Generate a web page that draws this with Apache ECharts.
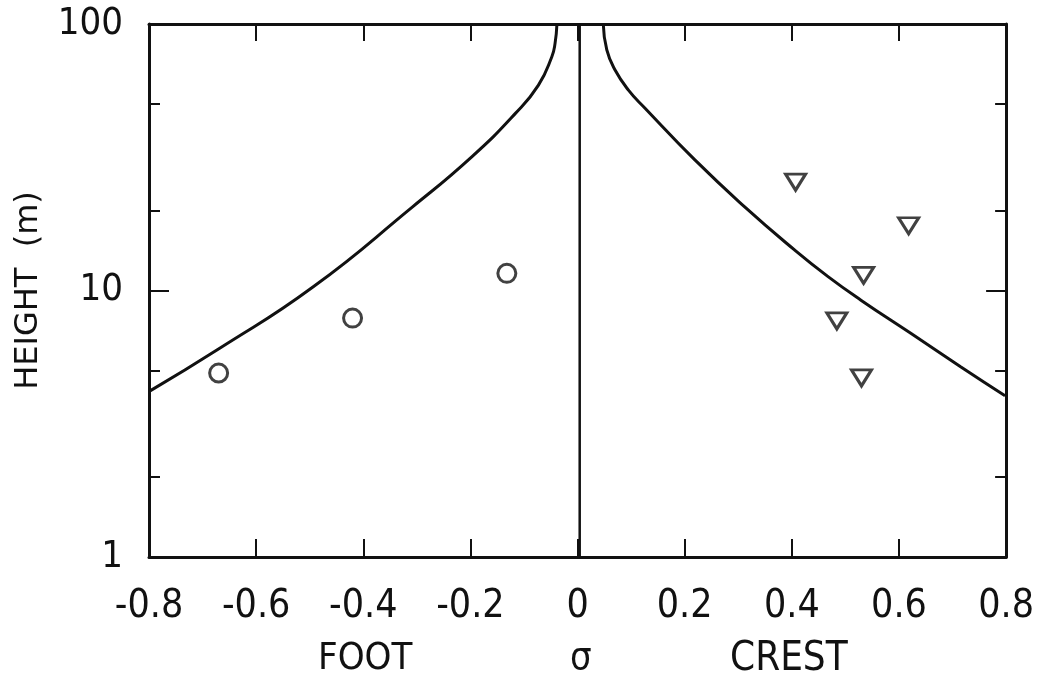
<!DOCTYPE html>
<html>
<head>
<meta charset="utf-8">
<script src="https://cdn.jsdelivr.net/npm/echarts@6/dist/echarts.min.js"></script>
<style>
  html, body { margin: 0; padding: 0; background: #fff; }
  #chart { width: 1037px; height: 676px; }
</style>
</head>
<body>
<div id="chart"></div>
<script>
// sigma vs height, foot (left) and crest (right)
var xTicks = [-0.8, -0.6, -0.4, -0.2, 0, 0.2, 0.4, 0.6, 0.8];
var yMajorTicks = [1, 10, 100];
var yMinorTicks = [2, 5, 20, 50];

// model curve, foot side
var footCurveX = [-0.798, -0.668, -0.494, -0.308, -0.197, -0.116, -0.073, -0.048, -0.042, -0.0385];
var footCurveY = [4.2, 6.07, 10.3, 20.6, 31.8, 46.2, 59.0, 75.4, 84.6, 100];
// model curve, crest side
var crestCurveX = [0.048, 0.0546, 0.070, 0.095, 0.126, 0.219, 0.312, 0.405, 0.467, 0.529, 0.622, 0.715, 0.798];
var crestCurveY = [100, 79.9, 67.2, 56.5, 48.3, 30.9, 20.6, 14.2, 11.3, 9.2, 6.91, 5.18, 4.03];

// observations
var footObsX = [-0.670, -0.420, -0.132];
var footObsY = [4.90, 7.88, 11.6];
var crestObsX = [0.407, 0.618, 0.534, 0.484, 0.530];
var crestObsY = [25.5, 17.5, 11.4, 7.69, 4.70];

// sigma = 0 line
var zeroLineX = [0.004, 0.004];
var zeroLineY = [1, 100];

function pairs(xs, ys) {
    var res = [];
    for (var i = 0; i < xs.length; i++) {
        res.push([xs[i], ys[i]]);
    }
    return res;
}

var font = '"DejaVu Sans Condensed", "Liberation Sans", sans-serif';
var ink = '#111';

// one log axis only for its ticks
function tickAxis(pos, ticks, len, showLine) {
    return {
        type: 'log', logBase: 10, min: 1, max: 100, position: pos,
        axisLine: {show: showLine, onZero: false, lineStyle: {color: ink, width: 3}},
        axisTick: {show: true, inside: true, length: len, lineStyle: {color: ink, width: 2}, customValues: ticks},
        axisLabel: {show: false},
        splitLine: {show: false}
    };
}

var leftMain = tickAxis('left', yMajorTicks, 20, true);
leftMain.name = 'HEIGHT  (m)';
leftMain.nameLocation = 'middle';
leftMain.nameRotate = 90;
leftMain.nameGap = 104;
leftMain.nameTextStyle = {color: ink, fontFamily: 'DejaVu Sans', fontSize: 32};
leftMain.axisLabel = {show: true, margin: 26, color: ink, fontFamily: font, fontSize: 38, customValues: yMajorTicks};

var myChart = echarts.init(document.getElementById('chart'));
myChart.setOption({
    backgroundColor: '#fff',
    animation: false,
    grid: {left: 149, right: 28, top: 24, bottom: 119},
    xAxis: [
        {
            type: 'value', min: -0.8, max: 0.8, interval: 0.2, position: 'bottom',
            axisLine: {show: true, onZero: false, lineStyle: {color: ink, width: 3}},
            axisTick: {show: true, inside: true, length: 18, lineStyle: {color: ink, width: 2}},
            axisLabel: {
                show: true, margin: 30, color: ink, fontFamily: font, fontSize: 39,
                customValues: xTicks,
                formatter: function (v) { return v === 0 ? '0' : String(Math.round(v * 10) / 10); }
            },
            splitLine: {show: false}
        },
        {
            type: 'value', min: -0.8, max: 0.8, interval: 0.2, position: 'top',
            axisLine: {show: true, onZero: false, lineStyle: {color: ink, width: 3}},
            axisTick: {show: true, inside: true, length: 17, lineStyle: {color: ink, width: 2}},
            axisLabel: {show: false},
            splitLine: {show: false}
        }
    ],
    yAxis: [
        leftMain,
        tickAxis('left', yMinorTicks, 11, false),
        tickAxis('right', yMajorTicks, 20, true),
        tickAxis('right', yMinorTicks, 11, false)
    ],
    graphic: [
        {type: 'text', left: 318, top: 640, style: {text: 'FOOT', fill: ink, font: '38px ' + font}},
        {type: 'text', left: 570, top: 640, style: {text: 'σ', fill: ink, font: '38px ' + font}},
        {type: 'text', left: 730, top: 640, style: {text: 'CREST', fill: ink, font: '40px ' + font}}
    ],
    series: [
        {
            name: 'zero', type: 'line', data: pairs(zeroLineX, zeroLineY),
            symbol: 'none', lineStyle: {color: ink, width: 2.5}, z: 1
        },
        {
            name: 'foot curve', type: 'line', data: pairs(footCurveX, footCurveY),
            smooth: 0.5, symbol: 'none', lineStyle: {color: ink, width: 3}
        },
        {
            name: 'crest curve', type: 'line', data: pairs(crestCurveX, crestCurveY),
            smooth: 0.5, symbol: 'none', lineStyle: {color: ink, width: 3}
        },
        {
            name: 'foot obs', type: 'scatter', data: pairs(footObsX, footObsY),
            symbol: 'circle', symbolSize: 18,
            itemStyle: {color: '#fff', borderColor: ink, borderWidth: 3}
        },
        {
            name: 'crest obs', type: 'scatter', data: pairs(crestObsX, crestObsY),
            symbol: 'triangle', symbolRotate: 180, symbolSize: [20, 16],
            itemStyle: {color: '#fff', borderColor: ink, borderWidth: 3}
        }
    ]
});
</script>
</body>
</html>
